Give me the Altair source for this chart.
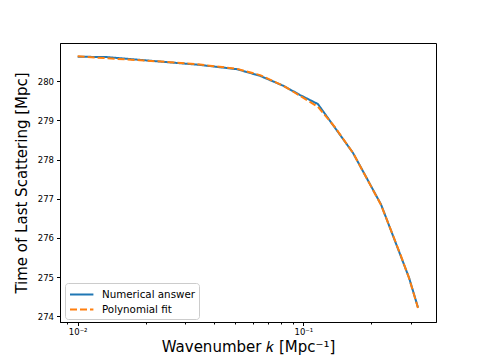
import altair as alt
import pandas as pd

# Numerical answer (vertices)
k_num = [0.0100, 0.0135, 0.0348, 0.0508, 0.0643, 0.0813, 0.0967, 0.116,
         0.166, 0.221, 0.294, 0.322]
t_num = [280.63, 280.62, 280.42, 280.31, 280.14, 279.89, 279.65, 279.42,
         278.17, 276.85, 274.98, 274.22]

# Polynomial fit (sampled along the dashed curve)
k_fit = [0.0100, 0.0135, 0.0189, 0.0257, 0.0348, 0.0508, 0.0643, 0.0813,
         0.0967, 0.116, 0.138, 0.166, 0.221, 0.269, 0.294, 0.322]
t_fit = [280.64, 280.59, 280.54, 280.49, 280.43, 280.32, 280.16, 279.89,
         279.63, 279.35, 278.83, 278.17, 276.84, 275.58, 274.97, 274.21]

series_names = ["Numerical answer", "Polynomial fit"]
series_colors = ["#1f77b4", "#ff7f0e"]

x_tick_values = [0.009, 0.01, 0.02, 0.03, 0.04, 0.05, 0.06, 0.07, 0.08, 0.09,
                 0.1, 0.2, 0.3]
y_tick_values = [274, 275, 276, 277, 278, 279, 280]

df = pd.concat([
    pd.DataFrame({"k": k_num, "t": t_num, "series": series_names[0]}),
    pd.DataFrame({"k": k_fit, "t": t_fit, "series": series_names[1]}),
], ignore_index=True)

major_test = "datum.value == 0.01 || datum.value == 0.1"

chart = alt.Chart(df).mark_line(strokeWidth=2).encode(
    x=alt.X(
        "k:Q",
        scale=alt.Scale(type="log", domain=[0.00835, 0.387], nice=False),
        axis=alt.Axis(
            values=x_tick_values,
            labelExpr="datum.value == 0.01 ? '10⁻²' : (datum.value == 0.1 ? '10⁻¹' : '')",
            labelOverlap=False,
            grid=False,
            tickSize={"condition": {"test": major_test, "value": 3.5}, "value": 2},
            tickColor="black",
            domainColor="black",
            labelColor="black",
            labelFont="DejaVu Sans",
            labelFontSize=8.5,
            labelPadding=2,
            title="Wavenumber 𝑘 [Mpc⁻¹]",
            titleFont="DejaVu Sans",
            titleFontSize=15,
            titleFontWeight="normal",
            titleColor="black",
            titleBaseline="alphabetic",
            titleY=29,
        ),
    ),
    y=alt.Y(
        "t:Q",
        scale=alt.Scale(domain=[273.85, 280.98], nice=False, zero=False),
        axis=alt.Axis(
            values=y_tick_values,
            format="d",
            grid=False,
            tickSize=3.5,
            tickColor="black",
            domainColor="black",
            labelColor="black",
            labelFont="DejaVu Sans",
            labelFontSize=8.5,
            labelPadding=3,
            title="Time of Last Scattering [Mpc]",
            titleFont="DejaVu Sans",
            titleFontSize=15,
            titleFontWeight="normal",
            titleColor="black",
            titleBaseline="alphabetic",
            titleX=-34,
        ),
    ),
    color=alt.Color(
        "series:N",
        scale=alt.Scale(domain=series_names, range=series_colors),
        legend=alt.Legend(
            title=None,
            orient="none",
            legendX=5,
            legendY=240,
            padding=4,
            rowPadding=2,
            symbolType="M-1,0H2.6",
            symbolSize=169,
            symbolStrokeWidth=2,
            labelOffset=18,
            labelFont="DejaVu Sans",
            labelFontSize=10.3,
            labelColor="black",
            strokeColor="#cccccc",
            fillColor="white",
            cornerRadius=3,
        ),
    ),
    strokeDash=alt.StrokeDash(
        "series:N",
        scale=alt.Scale(domain=series_names, range=[[1, 0], [7, 3]]),
        legend=None,
    ),
).properties(
    width=376,
    height=279,
    autosize=alt.AutoSizeParams(type="none"),
    padding={"left": 52, "top": 35, "right": 40, "bottom": 33},
).configure_view(
    stroke="black",
    strokeWidth=1,
)

chart.save("out.html", embed_options={"renderer": "svg", "actions": False})
